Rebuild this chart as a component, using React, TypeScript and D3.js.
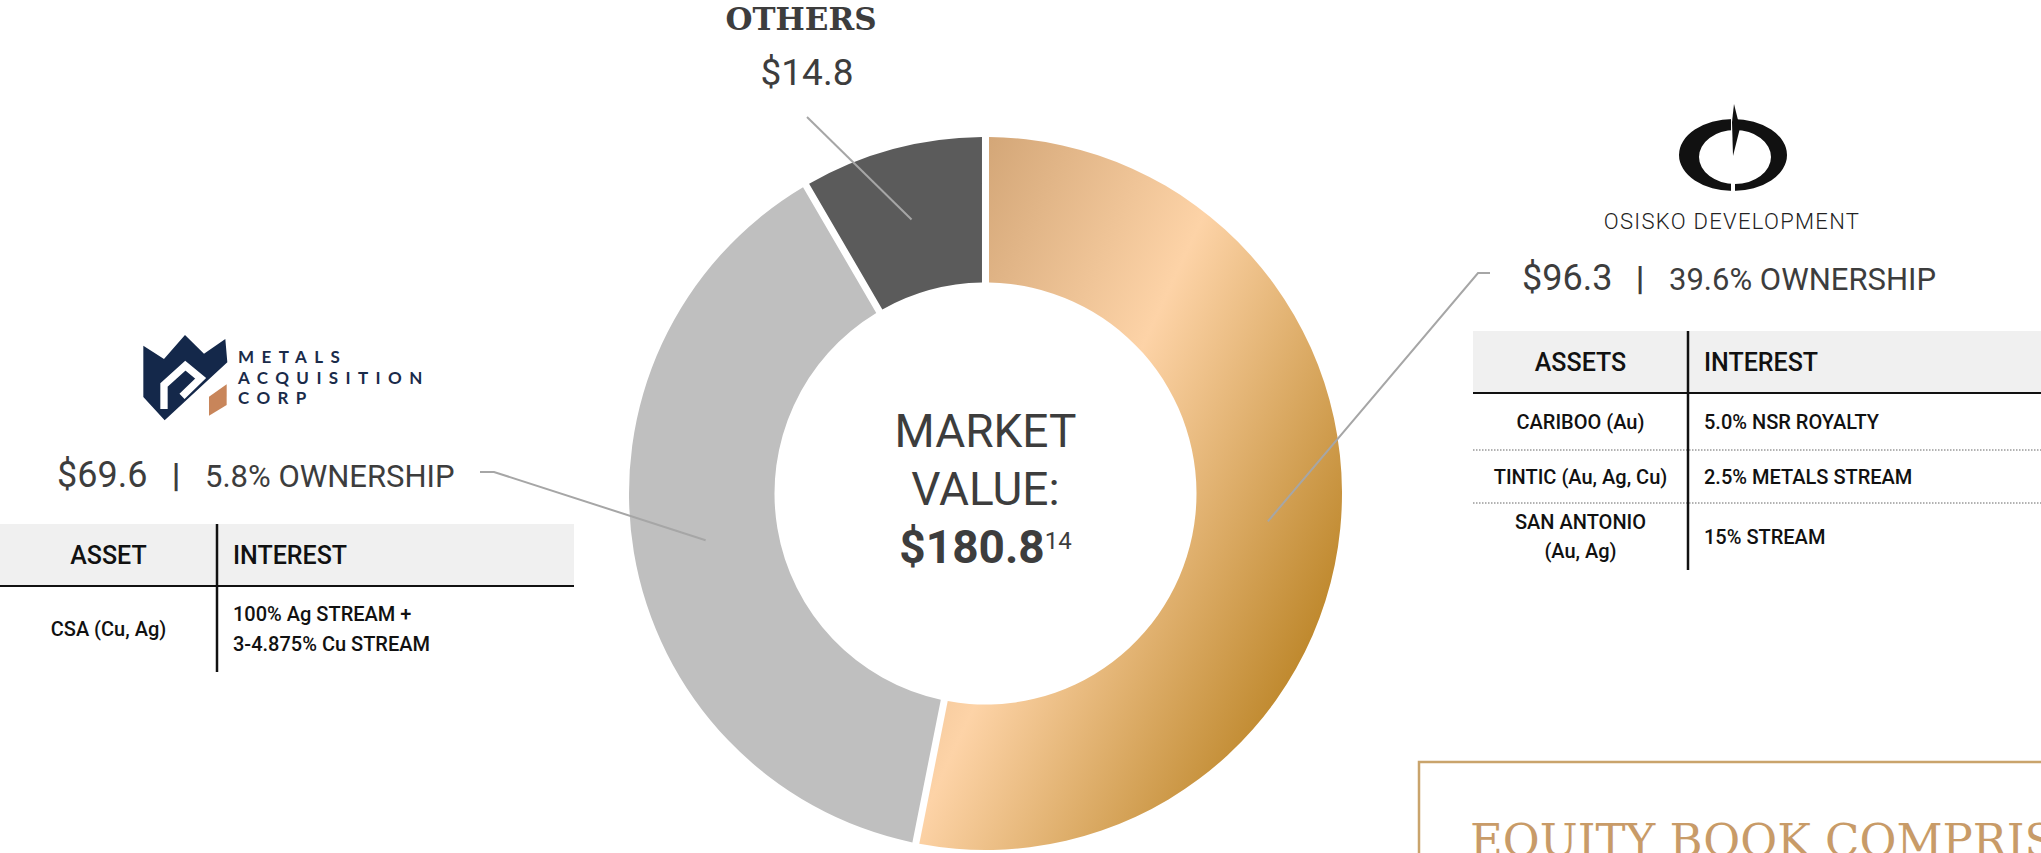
import React from 'react';
import * as d3 from 'd3';

// market value (US$M) by holding
const holdings = ['Osisko Development', 'Metals Acquisition Corp', 'Others'];
const values = [96.3, 69.6, 14.8];
const sliceColors = ['url(#osiskoGold)', '#bfbfbf', '#5b5b5b'];

const totalLabel = '$180.8';
const totalNote = '14';

// Osisko Development table
const odValue = '$96.3';
const odOwnership = '39.6% OWNERSHIP';
const odAssets = [['CARIBOO (Au)'], ['TINTIC (Au, Ag, Cu)'], ['SAN ANTONIO', '(Au, Ag)']];
const odInterest = [['5.0% NSR ROYALTY'], ['2.5% METALS STREAM'], ['15% STREAM']];

// Metals Acquisition Corp table
const macValue = '$69.6';
const macOwnership = '5.8% OWNERSHIP';
const macAssets = [['CSA (Cu, Ag)']];
const macInterest = [['100% Ag STREAM +', '3-4.875% Cu STREAM']];
const macWordmark = ['METALS', 'ACQUISITION', 'CORP'];

const othersValue = '$14.8';

const W = 2041;
const H = 853;
const cx = 985.5;
const cy = 493.5;
const rOuter = 356.5;
const rInner = 211;

const din = 'Roboto, "Noto Sans", sans-serif';
const textGrey = '#3d3d3d';
const leader = '#a6a6a6';

const Cell = ({ lines, x, yMid, anchor, size, gap }) => {
    const first = yMid + size * 0.36 - ((lines.length - 1) * gap) / 2;
    return (
        <text x={x} textAnchor={anchor} fontFamily={din} fontSize={size} fontWeight={500} fill="#111">
            {lines.map((l, i) => (
                <tspan key={i} x={x} y={first + i * gap}>{l}</tspan>
            ))}
        </text>
    );
};

const Table = ({ x0, x1, divX, top, headBottom, rowBottoms, assetHead, assets, interest }) => {
    const assetX = (x0 + divX) / 2;
    const rows = rowBottoms.map((b, i) => ({ top: i === 0 ? headBottom : rowBottoms[i - 1], bottom: b }));
    return (
        <g>
            <rect x={x0} y={top} width={x1 - x0} height={headBottom - top} fill="#f0f0f0" />
            <text x={assetX} y={(top + headBottom) / 2 + 9} textAnchor="middle" fontFamily={din} fontSize={25} fontWeight={500} fill="#111">{assetHead}</text>
            <text x={divX + 16} y={(top + headBottom) / 2 + 9} fontFamily={din} fontSize={25} fontWeight={500} fill="#111">INTEREST</text>
            <line x1={x0} x2={x1} y1={headBottom} y2={headBottom} stroke="#111" strokeWidth={2} />
            {rows.slice(0, -1).map((r, i) => (
                <line key={i} x1={x0} x2={x1} y1={r.bottom} y2={r.bottom} stroke="#666" strokeWidth={1} strokeDasharray="1.5 1.5" />
            ))}
            {rows.map((r, i) => (
                <g key={i}>
                    <Cell lines={assets[i]} x={assetX} yMid={(r.top + r.bottom) / 2} anchor="middle" size={20} gap={29} />
                    <Cell lines={interest[i]} x={divX + 16} yMid={(r.top + r.bottom) / 2} anchor="start" size={20} gap={30} />
                </g>
            ))}
            <line x1={divX} x2={divX} y1={top} y2={rowBottoms[rowBottoms.length - 1]} stroke="#111" strokeWidth={2.5} />
        </g>
    );
};

const App = () => {
    const pie = d3.pie<number>().sort(null).value(d => d).padAngle(0.017);
    const arcs = pie(values);
    const arc = d3.arc<d3.PieArcDatum<number>>().innerRadius(rInner).outerRadius(rOuter);
    const centroids = arcs.map(a => {
        const [x, y] = arc.centroid(a);
        return [cx + x, cy + y];
    });

    return (
        <div style={{ position: 'absolute', left: 0, top: 0 }}>
            <svg width={W} height={H} style={{ display: 'block', background: '#fff' }}>
                <defs>
                    {/* coordinates relative to the donut centre (the slices sit in a translated group) */}
                    <linearGradient id="osiskoGold" gradientUnits="userSpaceOnUse" x1={0} y1={-rOuter} x2={498} y2={-124}>
                        <stop offset="0" stopColor="#d3a677" />
                        <stop offset="0.42" stopColor="#fdd3a7" />
                        <stop offset="1" stopColor="#b67e1c" />
                    </linearGradient>
                </defs>

                {/* donut */}
                <g transform={`translate(${cx},${cy})`}>
                    {arcs.map((a, i) => (
                        <path key={holdings[i]} d={arc(a)} fill={sliceColors[i]} />
                    ))}
                </g>

                {/* centre label */}
                <g fontFamily={din} fill={textGrey} textAnchor="middle">
                    <text x={cx} y={447} fontSize={46}>MARKET</text>
                    <text x={cx} y={505} fontSize={46}>VALUE:</text>
                    <text x={cx} y={563} fontSize={46}>
                        <tspan fontWeight={700}>{totalLabel}</tspan>
                        <tspan fontSize={24} dy={-14}>{totalNote}</tspan>
                    </text>
                </g>

                {/* leader lines */}
                <polyline points={`807,117 ${centroids[2][0]},${centroids[2][1]}`} fill="none" stroke={leader} strokeWidth={2} />
                <polyline points={`480,472 494,472 ${centroids[1][0]},${centroids[1][1]}`} fill="none" stroke={leader} strokeWidth={2} />
                <polyline points={`1490,273 1478,273 ${centroids[0][0]},${centroids[0][1]}`} fill="none" stroke={leader} strokeWidth={2} />

                {/* others */}
                <text x={801} y={30} textAnchor="middle" fontFamily='"DejaVu Serif", serif' fontWeight={700} fontSize={31} fill={textGrey}>OTHERS</text>
                <text x={807} y={85} textAnchor="middle" fontFamily={din} fontSize={37} fill={textGrey}>{othersValue}</text>

                {/* Osisko Development logo */}
                <g>
                    <path
                        d="M1679,155 a54,36 0 1,0 108,0 a54,36 0 1,0 -108,0 Z M1699,157 a36,27 0 1,0 72,0 a36,27 0 1,0 -72,0 Z"
                        fill="#111" fillRule="evenodd"
                    />
                    <rect x={1731} y={114} width={4} height={20} fill="#fff" />
                    <rect x={1731} y={180} width={4} height={14} fill="#fff" />
                    <polygon points="1734,104 1740,128 1733,156 1732,122" fill="#111" />
                </g>
                <text x={1732} y={229} textAnchor="middle" fontFamily={din} fontWeight={300} fontSize={22} letterSpacing={1.3} fill="#222">OSISKO DEVELOPMENT</text>
                <g fontFamily={din} fill={textGrey}>
                    <text x={1522} y={290} fontSize={36}>{odValue}</text>
                    <text x={1640} y={290} fontSize={34} fontWeight={700} textAnchor="middle">|</text>
                    <text x={1669} y={290} fontSize={31}>{odOwnership}</text>
                </g>
                <Table x0={1473} x1={W} divX={1688} top={331} headBottom={393} rowBottoms={[450, 503, 570]}
                    assetHead="ASSETS" assets={odAssets} interest={odInterest} />

                {/* Metals Acquisition Corp logo */}
                <g transform="translate(130,325) scale(0.3333)">
                    <polygon points="40,62 102,102 165,30 222,86 286,42 292,112 104,286 40,216" fill="#14284a" />
                    <polyline points="102,252 102,180 166,122 212,160 156,214" fill="none" stroke="#fff" strokeWidth={22} strokeLinejoin="miter" />
                    <polygon points="237,215 290,178 290,240 237,272" fill="#c8855a" />
                </g>
                <g fontFamily='Lato, "Noto Sans", sans-serif' fontSize={17} fontWeight={700} letterSpacing={7.4} fill="#1a2b4a">
                    {macWordmark.map((w, i) => (
                        <text key={w} x={238} y={363 + i * 20.5}>{w}</text>
                    ))}
                </g>
                <g fontFamily={din} fill={textGrey}>
                    <text x={57} y={487} fontSize={36}>{macValue}</text>
                    <text x={176} y={487} fontSize={34} fontWeight={700} textAnchor="middle">|</text>
                    <text x={205} y={487} fontSize={31}>{macOwnership}</text>
                </g>
                <Table x0={0} x1={574} divX={217} top={524} headBottom={586} rowBottoms={[672]}
                    assetHead="ASSET" assets={macAssets} interest={macInterest} />

                {/* equity book panel, cut by the frame as in the source slide */}
                <rect x={1419} y={762} width={700} height={200} fill="none" stroke="#c9a46c" strokeWidth={2.5} />
                <text x={1470} y={856} fontFamily='"DejaVu Serif", serif' fontSize={45} fill="#c89b68">EQUITY BOOK COMPRISED OF</text>
            </svg>
        </div>
    );
};

export default App;
